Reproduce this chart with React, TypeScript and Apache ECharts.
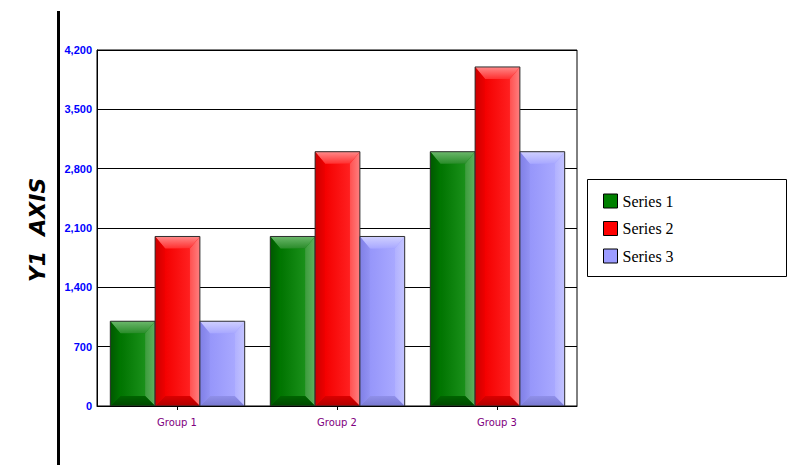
import React, { useEffect, useRef } from "react";
import * as echarts from "echarts";

const categories = ["Group 1", "Group 2", "Group 3"];
const seriesNames = ["Series 1", "Series 2", "Series 3"];
const series1 = [1000, 2000, 3000];
const series2 = [2000, 3000, 4000];
const series3 = [1000, 2000, 3000];
const yMin = 0;
const yMax = 4200;
const yInterval = 700;

const palettes = [
  { base: "#008000", top: ["#6cb86c", "#2a8c2a"], left: ["#005800", "#007400"], right: ["#3c9c3c", "#60b060"], bottom: ["#006400", "#004800"], center: ["#007400", "#1a901a"] },
  { base: "#ff0000", top: ["#ff8a8a", "#ff3030"], left: ["#cc0000", "#ee0000"], right: ["#ff5050", "#ff8080"], bottom: ["#dc0000", "#b00000"], center: ["#f40000", "#ff2020"] },
  { base: "#9c9cff", top: ["#d0d0ff", "#a8a8ff"], left: ["#8080e6", "#9292f4"], right: ["#b0b0ff", "#c4c4ff"], bottom: ["#9090ea", "#7878d0"], center: ["#9696fa", "#a8a8ff"] },
];

function lg(c: string[], vertical: boolean) {
  return {
    type: "linear",
    x: 0,
    y: 0,
    x2: vertical ? 0 : 1,
    y2: vertical ? 1 : 0,
    colorStops: [
      { offset: 0, color: c[0] },
      { offset: 1, color: c[1] },
    ],
    global: false,
  };
}

export default function App() {
  const ref = useRef<HTMLDivElement>(null);
  useEffect(() => {
    if (!ref.current) return;
    const chart = echarts.init(ref.current, null, { renderer: "svg" });
    const allSeries = [series1, series2, series3];
    const gapRatio = 0.16;

    const makeRender = (sIdx: number) => (params: any, api: any) => {
      const cat = api.value(0);
      const val = api.value(1);
      const top = api.coord([cat, val]);
      const base = api.coord([cat, 0]);
      const band = api.size([1, 0])[0];
      const total = band * (1 - gapRatio);
      const w = total / 3;
      const x = top[0] - total / 2 + sIdx * w + 0.5;
      const y = top[1];
      const h = base[1] - top[1];
      const bt = Math.min(12, h / 2);
      const bb = Math.min(10, h / 2);
      const bs = Math.min(10, w / 2);
      const p = palettes[sIdx];
      return {
        type: "group",
        children: [
          { type: "rect", shape: { x, y, width: w, height: h }, style: { fill: p.base } },
          { type: "rect", shape: { x: x + bs, y: y + bt, width: w - 2 * bs, height: h - bt - bb }, style: { fill: lg(p.center, false) } },
          { type: "polygon", shape: { points: [[x, y], [x + w, y], [x + w - bs, y + bt], [x + bs, y + bt]] }, style: { fill: lg(p.top, true) } },
          { type: "polygon", shape: { points: [[x, y], [x + bs, y + bt], [x + bs, y + h - bb], [x, y + h]] }, style: { fill: lg(p.left, false) } },
          { type: "polygon", shape: { points: [[x + w, y], [x + w, y + h], [x + w - bs, y + h - bb], [x + w - bs, y + bt]] }, style: { fill: lg(p.right, false) } },
          { type: "polygon", shape: { points: [[x, y + h], [x + bs, y + h - bb], [x + w - bs, y + h - bb], [x + w, y + h]] }, style: { fill: lg(p.bottom, true) } },
          { type: "rect", shape: { x, y, width: w, height: h }, style: { fill: "none", stroke: "#303030", lineWidth: 1 } },
        ],
      };
    };

    chart.setOption({
      animation: false,
      backgroundColor: "#ffffff",
      grid: { left: 97, right: 216, top: 50, bottom: 70, show: true, borderColor: "#000", borderWidth: 1, backgroundColor: "transparent" },
      xAxis: {
        type: "category",
        data: categories,
        boundaryGap: true,
        axisLine: { lineStyle: { color: "#000", width: 1 } },
        axisTick: { show: true, alignWithLabel: true, length: 4, lineStyle: { color: "#000" } },
        axisLabel: { color: "#800080", fontSize: 10, fontFamily: "DejaVu Sans, sans-serif", margin: 11 },
        splitLine: { show: false },
      },
      yAxis: {
        type: "value",
        min: yMin,
        max: yMax,
        interval: yInterval,
        axisLine: { show: true, lineStyle: { color: "#000", width: 1 } },
        axisTick: { show: false },
        axisLabel: {
          color: "#0000ff",
          fontSize: 11,
          fontWeight: "bold",
          fontFamily: "Liberation Sans Narrow, Liberation Sans, sans-serif",
          margin: 5,
          formatter: (v: number) => v.toLocaleString("en-US"),
        },
        splitLine: { show: true, lineStyle: { color: "#000", width: 1, type: "solid" } },
      },
      legend: {
        orient: "vertical",
        left: 598,
        top: 188,
        itemWidth: 14,
        itemHeight: 14,
        itemGap: 11.5,
        icon: "rect",
        data: seriesNames,
        itemStyle: { borderColor: "#000", borderWidth: 1 },
        textStyle: { color: "#000", fontSize: 16, fontFamily: "Liberation Serif, serif" },
      },
      graphic: [
        { type: "rect", left: 57, top: 11, shape: { width: 3, height: 454 }, style: { fill: "#000" } },
        { type: "rect", shape: { x: 587.5, y: 179.5, width: 199, height: 97 }, style: { fill: "none", stroke: "#000", lineWidth: 1 }, z: -1 },
        {
          type: "text",
          x: 37,
          y: 230,
          rotation: Math.PI / 2,
          style: {
            text: "Y1  AXIS",
            fill: "#000",
            font: "italic bold 22px DejaVu Sans, sans-serif",
            align: "center",
            verticalAlign: "middle",
          },
        },
      ],
      series: allSeries.map((vals, sIdx) => ({
        type: "custom",
        name: seriesNames[sIdx],
        itemStyle: { color: palettes[sIdx].base },
        encode: { x: 0, y: 1 },
        data: vals.map((v, i) => [i, v]),
        renderItem: makeRender(sIdx),
        clip: true,
      })),
    });
    return () => chart.dispose();
  }, []);
  return <div ref={ref} style={{ position: "fixed", left: 0, top: 0, width: 793, height: 476 }} />;
}
